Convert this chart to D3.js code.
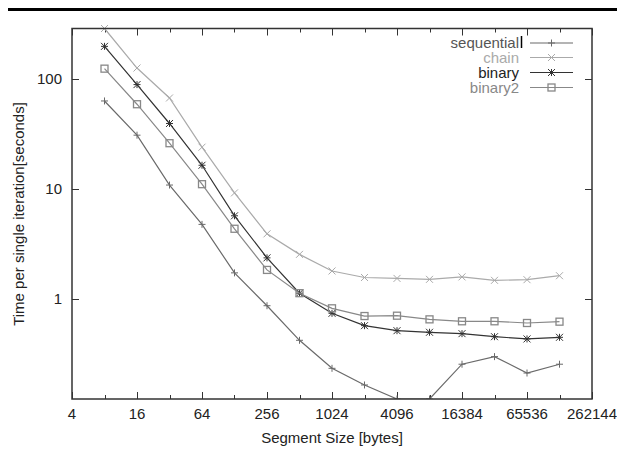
<!DOCTYPE html>
<html>
<head>
<meta charset="utf-8">
<script src="https://cdn.jsdelivr.net/npm/d3@7"></script>
<style>
  body { margin: 0; background: #fff; }
  text { font-family: "Liberation Sans", Arial, sans-serif; }
</style>
</head>
<body>
<svg width="617" height="458"></svg>
<script>
  // segment sizes (bytes) and timings (seconds)
  var sizes = [8, 16, 32, 64, 128, 256, 512, 1024, 2048, 4096, 8192, 16384, 32768, 65536, 131072];
  var sequential = [63.5, 31, 10.9, 4.78, 1.73, 0.869, 0.421, 0.234, 0.165, 0.123, 0.123, 0.255, 0.299, 0.212, 0.255];
  var chain = [290, 126.7, 67.6, 24.1, 9.25, 3.92, 2.55, 1.80, 1.57, 1.54, 1.51, 1.59, 1.48, 1.50, 1.63];
  var binary = [199.5, 89.5, 39.6, 16.5, 5.72, 2.37, 1.13, 0.741, 0.572, 0.515, 0.498, 0.484, 0.454, 0.433, 0.448];
  var binary2 = [125, 59.3, 26.2, 11.1, 4.36, 1.84, 1.13, 0.823, 0.70, 0.705, 0.653, 0.627, 0.627, 0.605, 0.622];
  var seriesNames = ["sequential", "chain", "binary", "binary2"];
  var xTicks = [4, 16, 64, 256, 1024, 4096, 16384, 65536, 262144];
  var yTicks = [1, 10, 100];

  var series = [
    { name: "sequential", values: sequential, color: "#6a6a6a", text: "#555", marker: "plus" },
    { name: "chain", values: chain, color: "#aaaaaa", text: "#aaa", marker: "cross" },
    { name: "binary", values: binary, color: "#333333", text: "#222", marker: "star" },
    { name: "binary2", values: binary2, color: "#888888", text: "#888", marker: "square" }
  ];

  // plot box (note: "top" is taken by window.top)
  var pLeft = 72, pRight = 592, pTop = 28.5, pBottom = 399;

  var svg = d3.select("svg");

  svg.append("rect").attr("x", 8).attr("y", 8).attr("width", 609).attr("height", 3).attr("fill", "#000");

  var x = d3.scaleLog().base(2).domain([4, 262144]).range([pLeft, pRight]);
  var y = d3.scaleLog().domain([0.123, 290]).range([pBottom, pTop]);

  svg.append("defs").append("clipPath").attr("id", "plotclip")
      .append("rect").attr("x", pLeft).attr("y", pTop - 4).attr("width", pRight - pLeft).attr("height", pBottom - pTop + 4);

  // x ticks: every octave, labels on every second one
  var octaves = d3.range(2, 19).map(function ( e ) { return Math.pow(2, e); });
  var tickG = svg.append("g").attr("stroke", "#333").attr("stroke-width", 1);
  octaves.forEach(function ( v )
  {
    var major = xTicks.indexOf(v) >= 0;
    var len = major ? 7 : 4;
    var px = Math.round(x(v)) + 0.5;
    tickG.append("line").attr("x1", px).attr("x2", px).attr("y1", pBottom).attr("y2", pBottom - len);
    tickG.append("line").attr("x1", px).attr("x2", px).attr("y1", pTop).attr("y2", pTop + len);
  });
  yTicks.forEach(function ( v )
  {
    var py = Math.round(y(v)) + 0.5;
    tickG.append("line").attr("x1", pLeft).attr("x2", pLeft + 7).attr("y1", py).attr("y2", py);
    tickG.append("line").attr("x1", pRight).attr("x2", pRight - 7).attr("y1", py).attr("y2", py);
  });

  svg.selectAll("text.xt").data(xTicks).enter()
      .append("text").attr("class", "xt")
      .attr("x", function ( d ) { return x(d); })
      .attr("y", 419)
      .attr("text-anchor", "middle")
      .attr("font-size", 15)
      .attr("fill", "#222")
      .text(function ( d ) { return d; });

  svg.selectAll("text.yt").data(yTicks).enter()
      .append("text").attr("class", "yt")
      .attr("x", 62)
      .attr("y", function ( d ) { return y(d) + 5; })
      .attr("text-anchor", "end")
      .attr("font-size", 15)
      .attr("fill", "#222")
      .text(function ( d ) { return d; });

  svg.append("text").attr("x", 332).attr("y", 443).attr("text-anchor", "middle")
      .attr("font-size", 15).attr("fill", "#222").text("Segment Size [bytes]");
  svg.append("text").attr("transform", "translate(24,214) rotate(-90)").attr("text-anchor", "middle")
      .attr("font-size", 15).attr("fill", "#222").text("Time per single iteration[seconds]");

  function drawMarker( g, type, cx, cy, color )
  {
    var s = 3.5;
    var m = g.append("g").attr("stroke", color).attr("stroke-width", 1).attr("fill", "none");
    if ( type === "plus" || type === "star" )
    {
      m.append("path").attr("d", ["M", cx - s, cy, "L", cx + s, cy, "M", cx, cy - s, "L", cx, cy + s].join(" "));
    }
    if ( type === "cross" || type === "star" )
    {
      m.append("path").attr("d", ["M", cx - s, cy - s, "L", cx + s, cy + s, "M", cx - s, cy + s, "L", cx + s, cy - s].join(" "));
    }
    if ( type === "square" )
    {
      m.append("rect").attr("x", cx - s).attr("y", cy - s).attr("width", 2 * s).attr("height", 2 * s).attr("stroke-width", 1.3);
    }
  }

  var line = d3.line()
      .x(function ( d ) { return x(d[0]); })
      .y(function ( d ) { return y(d[1]); });

  var plot = svg.append("g").attr("clip-path", "url(#plotclip)");
  series.forEach(function ( s )
  {
    var pts = sizes.map(function ( sz, i ) { return [sz, s.values[i]]; });
    plot.append("path").attr("d", line(pts)).attr("fill", "none")
        .attr("stroke", s.color).attr("stroke-width", 1.2);
    pts.forEach(function ( p )
    {
      drawMarker(plot, s.marker, x(p[0]), y(p[1]), s.color);
    });
  });

  // legend
  var legendY = [43, 57.5, 72.5, 87.5];
  series.forEach(function ( s, i )
  {
    svg.append("text").attr("x", 519).attr("y", legendY[i] + 5)
        .attr("text-anchor", "end").attr("font-size", 15).attr("fill", s.text).text(seriesNames[i]);
    svg.append("line").attr("x1", 530).attr("x2", 573).attr("y1", legendY[i]).attr("y2", legendY[i])
        .attr("stroke", s.color).attr("stroke-width", 1.2);
    drawMarker(svg, s.marker, 551.5, legendY[i], s.color);
  });
  svg.append("line").attr("x1", 521.5).attr("x2", 521.5).attr("y1", 36).attr("y2", 48)
      .attr("stroke", "#000").attr("stroke-width", 1.5);

  // border
  svg.append("rect").attr("x", pLeft).attr("y", pTop).attr("width", pRight - pLeft).attr("height", pBottom - pTop)
      .attr("fill", "none").attr("stroke", "#333").attr("stroke-width", 1.5);
</script>
</body>
</html>
